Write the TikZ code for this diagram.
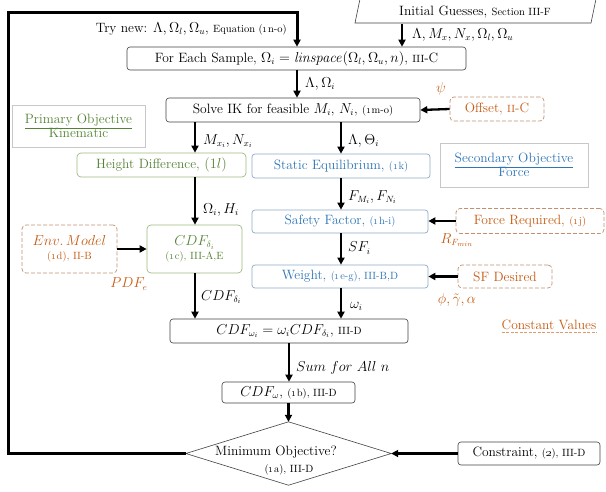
\documentclass[tikz,border=0pt]{standalone}
\usetikzlibrary{arrows.meta,calc}
\definecolor{grn}{HTML}{548235}
\definecolor{grnb}{HTML}{9BBB7F}
\definecolor{blu}{HTML}{2E75B6}
\definecolor{blub}{HTML}{8EA9C8}
\definecolor{org}{HTML}{C55A11}
\definecolor{orgb}{HTML}{C09070}
\definecolor{objb}{HTML}{C8C8C8}
\newcommand{\sm}[1]{{\fontsize{10.5}{12}\selectfont #1}}
\newcommand{\osn}[1]{\oldstylenums{#1}}
\begin{document}
\begin{tikzpicture}[x=1pt,y=-1pt,font=\fontsize{13.5}{15.5}\selectfont,
  blk/.style={draw=black!75,line width=0.6pt,rounded corners=3pt,inner sep=0pt,align=center},
  gbox/.style={draw=grnb,line width=0.7pt,rounded corners=4pt,inner sep=0pt,text=grn,align=center},
  bbox/.style={draw=blub,line width=0.7pt,rounded corners=3pt,inner sep=0pt,text=blu,align=center},
  obox/.style={draw=orgb,line width=0.7pt,dashed,dash pattern=on 4pt off 2pt,rounded corners=4pt,inner sep=0pt,text=org,align=center},
  objbox/.style={draw=objb,line width=0.6pt,inner sep=0pt,align=center},
  arr/.style={-{Triangle[length=7pt,width=7pt]},line width=2.3pt},
  lbl/.style={inner sep=0pt,anchor=west}]
\useasboundingbox (0,0) rectangle (606,491);

% Initial guesses
\draw[black!75,line width=0.6pt] (355,23) -- (360,-1) -- (596,-1) -- (591,23) -- cycle;
\node[inner sep=0pt,minimum width=236pt,minimum height=23pt] (init) at (475,12) {Initial Guesses, \sm{Section III-F}};

\node[blk,minimum width=339pt,minimum height=23pt] (fes) at (296.5,58.5)
  {For Each Sample, $\Omega_i=\mathit{linspace}(\Omega_l,\Omega_u,n)$, \sm{III}-C};
\node[blk,minimum width=254pt,minimum height=24pt] (solve) at (293,110)
  {Solve IK for feasible $M_i$, $N_i$, \sm{(\osn{1}m-o)}};
\node[obox,minimum width=94pt,minimum height=24pt] (offset) at (497,109) {Offset, \sm{II}-C};
\node[objbox,minimum width=133pt,minimum height=42pt,text=grn] (prim) at (78.5,126)
  {\underline{Primary Objective}\\[-2pt]Kinematic};
\node[gbox,minimum width=169pt,minimum height=24pt] (hd) at (161.5,165) {Height Difference, $(1l)$};
\node[bbox,minimum width=178pt,minimum height=24pt] (se) at (341,166) {Static Equilibrium, \sm{(\osn{1}k)}};
\node[objbox,minimum width=148pt,minimum height=44pt,text=blu] (sec) at (514,165)
  {\underline{Secondary Objective}\\[-2pt]Force};
\node[bbox,minimum width=176pt,minimum height=23pt] (sf) at (340,221.5) {Safety Factor, \sm{(\osn{1}h-i)}};
\node[obox,minimum width=148pt,minimum height=25pt] (fr) at (530,221) {Force Required, \sm{(\osn{1}j)}};
\node[bbox,minimum width=176pt,minimum height=23pt] (wt) at (340,276.5) {Weight, \sm{(\osn{1}e-g), III-B,D}};
\node[obox,minimum width=94pt,minimum height=23pt] (sfd) at (505,276.5) {SF Desired};
\node[blk,minimum width=238pt,minimum height=24pt] (cdfw) at (289,331)
  {$CDF_{\omega_i}=\omega_i CDF_{\delta_i}$, \sm{III-D}};
\node[obox,minimum width=95pt,minimum height=48pt] (env) at (69.5,249)
  {$Env.\,Model$\\[-1pt]\sm{(\osn{1}d), II-B}};
\node[gbox,minimum width=95pt,minimum height=48pt] (cdfd) at (194.5,249)
  {$CDF_{\delta_i}$\\[-1pt]\sm{(\osn{1}c), III-A,E}};
\node[blk,minimum width=133pt,minimum height=21pt] (cdfo) at (288.5,392.5)
  {$CDF_{\omega}$, \sm{(\osn{1}b), III-D}};
\node[inner sep=0pt,minimum width=205pt,minimum height=63pt] (dec) at (288.5,453.5) {};
\draw[black!75,line width=0.6pt] (dec.north) -- (dec.east) -- (dec.south) -- (dec.west) -- cycle;
\node[inner sep=0pt] (dect) at (276,452) {Minimum Objective?};
\node[inner sep=0pt] (decs) at (289,470) {\sm{(\osn{1}a), III-D}};
\node[blk,minimum width=142pt,minimum height=23pt] (con) at (529,453.5) {Constraint, \sm{(\osn{2}), III-D}};

% labels
\node[inner sep=0pt,anchor=east] (trylbl) at (287,29) {Try new: $\Lambda,\Omega_l,\Omega_u$, \sm{Equation (\osn{1}n-o)}};
\node[lbl] (l1) at (412,35) {$\Lambda,M_x,N_x,\Omega_l,\Omega_u$};
\node[lbl] (l2) at (305,84) {$\Lambda,\Omega_i$};
\node[inner sep=0pt,text=org] (l3) at (441,89) {$\psi$};
\node[lbl] (l4) at (203,141) {$M_{x_i},N_{x_i}$};
\node[lbl] (l5) at (348,141) {$\Lambda,\Theta_i$};
\node[lbl] (l6) at (348,197) {$F_{M_i},F_{N_i}$};
\node[lbl] (l7) at (203,210) {$\Omega_i,H_i$};
\node[inner sep=0pt,text=org] (l8) at (457,240) {$R_{F_{min}}$};
\node[lbl] (l9) at (348,248) {$SF_i$};
\node[inner sep=0pt,text=org] (l10) at (457,300) {$\phi,\tilde{\gamma},\alpha$};
\node[lbl] (l11) at (350,306) {$\omega_i$};
\node[inner sep=0pt,text=org] (l12) at (129,284) {$PDF_e$};
\node[lbl] (l13) at (201,297) {$CDF_{\delta_i}$};
\node[lbl] (l14) at (296,368) {$Sum\ for\ All\ n$};
\node[inner sep=0pt,text=org] (l15) at (549,325) {Constant Values};
\draw[org!60,dashed,dash pattern=on 3pt off 1.5pt,line width=0.6pt] ($(l15.south west)+(0,2)$) -- ($(l15.south east)+(0,2)$);

% connectors
\draw[arr] (402,0 |- init.south) -- (402,0 |- fes.north);
\draw[arr] (297,0 |- fes.south) -- (297,0 |- solve.north);
\draw[arr] (offset.west) -- (solve.east);
\draw[arr] (195,0 |- solve.south) -- (195,0 |- hd.north);
\draw[arr] (341,0 |- solve.south) -- (341,0 |- se.north);
\draw[arr] (195,0 |- hd.south) -- (195,0 |- cdfd.north);
\draw[arr] (env.east) -- (cdfd.west);
\draw[arr] (195,0 |- cdfd.south) -- (195,0 |- cdfw.north);
\draw[arr] (341,0 |- se.south) -- (341,0 |- sf.north);
\draw[arr] (fr.west) -- (fr.west -| sf.east);
\draw[arr] (341,0 |- sf.south) -- (341,0 |- wt.north);
\draw[arr] (sfd.west) -- (sfd.west -| wt.east);
\draw[arr] (341,0 |- wt.south) -- (341,0 |- cdfw.north);
\draw[arr] (289,0 |- cdfw.south) -- (289,0 |- cdfo.north);
\draw[arr] (cdfo.south) -- (dec.north);
\draw[arr] (con.west) -- (dec.east);
\draw[arr,line width=3pt,rounded corners=0pt] (dec.west) -- (8,0 |- dec.west) -- (8,12) -- (297,12) -- (297,0 |- fes.north);
\end{tikzpicture}
\end{document}
